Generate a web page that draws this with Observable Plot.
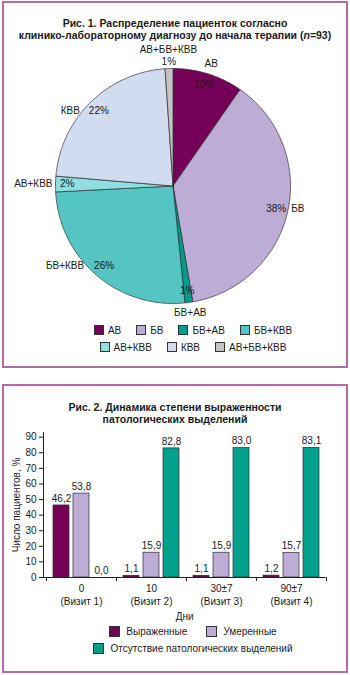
<!DOCTYPE html>
<html><head><meta charset="utf-8">
<script src="https://cdn.jsdelivr.net/npm/d3@7"></script>
<script src="https://cdn.jsdelivr.net/npm/@observablehq/plot@0.6"></script>
<style>
body{margin:0;width:350px;height:675px;position:relative;font-family:"Liberation Sans",Arial,sans-serif;color:#1a1a1a;background:#fff;overflow:hidden}
.box{position:absolute;left:2px;width:346px;box-sizing:border-box;border:2px solid #b46ca8}
#box1{top:1px;height:367px}
#box2{top:384px;height:289px}
.title{position:absolute;left:0;right:0;text-align:center;font-weight:bold;font-size:10.5px;line-height:11.5px}
.chart{position:absolute;left:0}
.legend{position:absolute;left:0;right:0;font-size:10px}
.row{display:flex;justify-content:center;align-items:center;height:17px}
.item{display:flex;align-items:center}
.sw{display:inline-block;box-sizing:border-box;border:1px solid #333}
</style>
</head><body>
<div class="box" id="box1">
  <div class="title" style="top:15px">Рис. 1. Распределение пациенток согласно<br>клинико-лабораторному диагнозу до начала терапии (<i>n</i>=93)</div>
  <div class="chart" id="pie" style="top:37px"></div>
  <div class="legend" id="pieLegend" style="top:318.5px;padding-left:36px"></div>
</div>
<div class="box" id="box2">
  <div class="title" style="top:16px">Рис. 2. Динамика степени выраженности<br>патологических выделений</div>
  <div class="chart" id="bars" style="top:42px"></div>
  <div class="legend" id="barLegend" style="top:236.5px;padding-left:36px"></div>
</div>
<script>
// ---------- Data: Fig. 1 ----------
const pieCategories = ["АВ", "БВ", "БВ+АВ", "БВ+КВВ", "АВ+КВВ", "КВВ", "АВ+БВ+КВВ"];
const pieCounts = [9, 35, 1, 24, 2, 21, 1];               // slice sizes (n = 93)
const pieLabels = ["10%", "38%", "1%", "26%", "2%", "22%", "1%"];
const pieColors = ["#750058", "#bcacd6", "#009b8b", "#55c5c3", "#8fdfe2", "#d1dcf1", "#c3c3c3"];
const pieLegendRows = [["АВ", "БВ", "БВ+АВ", "БВ+КВВ"], ["АВ+КВВ", "КВВ", "АВ+БВ+КВВ"]];

// ---------- Data: Fig. 2 ----------
const visits = ["0\n(Визит 1)", "10\n(Визит 2)", "30±7\n(Визит 3)", "90±7\n(Визит 4)"];
const seriesNames = ["Выраженные", "Умеренные", "Отсутствие патологических выделений"];
const pronounced = [46.2, 1.1, 1.1, 1.2];
const moderate = [53.8, 15.9, 15.9, 15.7];
const absent = [0.0, 82.8, 83.0, 83.1];
const yTicks = [0, 10, 20, 30, 40, 50, 60, 70, 80, 90];
const barColors = ["#750058", "#bcacd6", "#00a08c"];
const barLegendRows = [["Выраженные", "Умеренные"], ["Отсутствие патологических выделений"]];

const FONT = '"Liberation Sans", Arial, sans-serif';

// ---------- Pie ----------
{
  const W = 342, H = 280, cx = 168.5, cy = 145.5, R = 117.5;
  const data = pieCategories.map((c, i) => ({cat: c, count: pieCounts[i], label: pieLabels[i]}));
  const arcs = d3.pie().sort(null).value(d => d.count)(data);
  const pts = arcs.flatMap(a => {
    const n = Math.max(2, Math.ceil((a.endAngle - a.startAngle) / 0.01));
    const out = [{k: a.data.cat, x: 0, y: 0}];
    for (let i = 0; i <= n; i++) {
      const t = a.startAngle + (a.endAngle - a.startAngle) * i / n;
      out.push({k: a.data.cat, x: R * Math.sin(t), y: R * Math.cos(t)});
    }
    out.push({k: a.data.cat, x: 0, y: 0});
    return out;
  });
  const pctPts = [], catPts = [];
  for (const a of arcs) {
    const m = (a.startAngle + a.endAngle) / 2, s = Math.sin(m), c = Math.cos(m);
    const w = a.data.cat.length * 6.4, h = 11, pw = a.data.label.length * 6.2;
    const isTop = Math.abs(s) < 0.2 && c > 0;
    if (isTop) {
      pctPts.push({x: (R + 7) * s, y: (R + 7) * c, t: a.data.label});
      catPts.push({x: (R + 19) * s, y: (R + 19) * c, t: a.data.cat, anchor: "middle"});
    } else if (Math.abs(s) >= 0.5) {
      const px = 0.9 * R * s, py = 0.9 * R * c;
      pctPts.push({x: px, y: py, t: a.data.label});
      const edge = Math.sqrt(Math.max(0, R * R - py * py));
      if (s < 0) catPts.push({x: Math.min(-edge - 3, px - pw / 2 - 4), y: py, t: a.data.cat, anchor: "end"});
      else catPts.push({x: Math.max(edge + 3, px + pw / 2 + 4), y: py, t: a.data.cat, anchor: "start"});
    } else {
      pctPts.push({x: 0.9 * R * s, y: 0.9 * R * c, t: a.data.label});
      const ext = Math.abs(s) * w / 2 + Math.abs(c) * h / 2;
      const r = R + 3 + ext;
      catPts.push({x: r * s, y: r * c, t: a.data.cat, anchor: "middle"});
    }
  }
  const chart = Plot.plot({
    width: W, height: H, margin: 0,
    style: {fontFamily: FONT, fontSize: "10px", color: "#1a1a1a", background: "transparent"},
    x: {domain: [-cx, W - cx], range: [0, W], axis: null},
    y: {domain: [-(H - cy), cy], range: [H, 0], axis: null},
    color: {domain: pieCategories, range: pieColors},
    marks: [
      Plot.line(pts, {x: "x", y: "y", z: "k", fill: "k", stroke: "#2e2e2e", strokeWidth: 0.7, curve: "linear"}),
      Plot.text(pctPts, {x: "x", y: "y", text: "t", fill: "#1a1a1a"}),
      Plot.text(catPts.filter(d => d.anchor === "middle"), {x: "x", y: "y", text: "t", fill: "#1a1a1a"}),
      Plot.text(catPts.filter(d => d.anchor === "start"), {x: "x", y: "y", text: "t", textAnchor: "start", fill: "#1a1a1a"}),
      Plot.text(catPts.filter(d => d.anchor === "end"), {x: "x", y: "y", text: "t", textAnchor: "end", fill: "#1a1a1a"})
    ]
  });
  document.getElementById("pie").append(chart);

  const leg = document.getElementById("pieLegend");
  for (const row of pieLegendRows) {
    const r = document.createElement("div"); r.className = "row"; r.style.gap = "15px";
    for (const name of row) {
      const it = document.createElement("div"); it.className = "item";
      const sw = document.createElement("span"); sw.className = "sw";
      sw.style.cssText = `width:10px;height:10px;margin-right:4px;background:${pieColors[pieCategories.indexOf(name)]}`;
      it.append(sw, document.createTextNode(name));
      r.append(it);
    }
    leg.append(r);
  }
}

// ---------- Bars ----------
{
  const seriesValues = [pronounced, moderate, absent];
  const rows = seriesNames.flatMap((s, j) => visits.map((v, i) => ({visit: v, series: s, value: seriesValues[j][i], j})));
  const fmt = v => v.toFixed(1).replace(".", ",");
  const barMarks = seriesNames.flatMap((s, j) => {
    const sub = rows.filter(d => d.j === j);
    return [
      Plot.barY(sub, {x: "visit", y: "value", fill: "series", stroke: "#2b2b2b", strokeWidth: 0.7, dx: (j - 1) * 20, insetLeft: 27, insetRight: 27}),
      Plot.text(sub, {x: "visit", y: "value", text: d => fmt(d.value), dx: (j - 1) * 20, dy: -7, fill: "#1a1a1a"})
    ];
  });
  const chart = Plot.plot({
    width: 342, height: 197, marginTop: 4, marginLeft: 39, marginRight: 20.5, marginBottom: 48,
    style: {fontFamily: FONT, fontSize: "10px", color: "#1a1a1a", background: "transparent"},
    x: {domain: visits, range: [41.5, 321.5], padding: 0},
    y: {domain: [0, 93]},
    color: {domain: seriesNames, range: barColors},
    marks: [
      ...barMarks,
      Plot.ruleY([0], {stroke: "#222"}),
      Plot.ruleX(visits, {x: d => d, dx: -35, y1: 0, y2: 0, insetBottom: -4, stroke: "#222"}),
      Plot.ruleX(visits.slice(-1), {x: d => d, dx: 35, y1: 0, y2: 0, insetBottom: -4, stroke: "#222"}),
      Plot.frame({anchor: "left", stroke: "#222"}),
      Plot.axisY({ticks: yTicks, tickSize: 4, tickPadding: 3, label: "Число пациентов, %", labelAnchor: "center", labelOffset: 31, labelArrow: "none"}),
      Plot.axisX({tickSize: 0, tickPadding: 6, lineHeight: 1.25, label: "Дни", labelAnchor: "center", labelOffset: 42, labelArrow: "none"})
    ]
  });
  document.getElementById("bars").append(chart);

  const leg = document.getElementById("barLegend");
  for (const row of barLegendRows) {
    const r = document.createElement("div"); r.className = "row"; r.style.gap = "19px";
    for (const name of row) {
      const it = document.createElement("div"); it.className = "item";
      const sw = document.createElement("span"); sw.className = "sw";
      sw.style.cssText = `width:11px;height:11px;margin-right:6px;background:${barColors[seriesNames.indexOf(name)]}`;
      it.append(sw, document.createTextNode(name));
      r.append(it);
    }
    leg.append(r);
  }
}
</script>
</body></html>
